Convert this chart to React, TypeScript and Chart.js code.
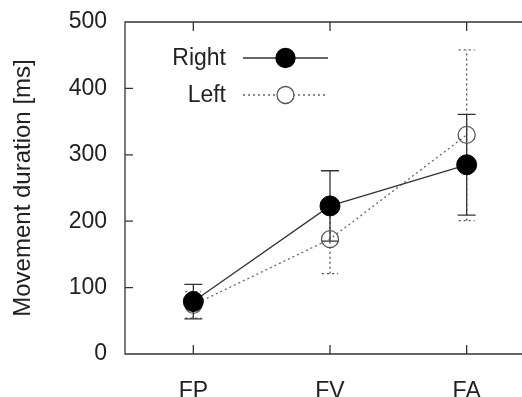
import React, { useEffect, useRef } from "react";
import { Chart, registerables } from "chart.js";

Chart.register(...registerables);

const categories = ["FP", "FV", "FA"];
const seriesNames = ["Right", "Left"];
const rightMean = [79, 223, 285];
const rightLow = [53, 170, 209];
const rightHigh = [105, 276, 361];
const leftMean = [74, 173, 330];
const leftLow = [54, 121, 201];
const leftHigh = [94, 225, 458];
const yTicks = [0, 100, 200, 300, 400, 500];
const yTitle = "Movement duration [ms]";

const FONT = "'Liberation Sans', Arial, Helvetica, sans-serif";
const W = 546;
const H = 420;

const zeroPad = (s: any) => {
  s.paddingTop = 0;
  s.paddingBottom = 0;
  s.paddingLeft = 0;
  s.paddingRight = 0;
};

const decorPlugin = {
  id: "decor",
  beforeDatasetsDraw(chart: any) {
    const { ctx, chartArea: a, scales } = chart;
    const x = scales.x;
    const y = scales.y;
    ctx.save();
    ctx.strokeStyle = "#333";
    ctx.lineWidth = 1.3;
    ctx.setLineDash([]);
    ctx.beginPath();
    ctx.moveTo(a.right, a.top);
    ctx.lineTo(a.left, a.top);
    ctx.lineTo(a.left, a.bottom);
    ctx.lineTo(a.right, a.bottom);
    yTicks.forEach((v) => {
      const py = y.getPixelForValue(v);
      ctx.moveTo(a.left, py);
      ctx.lineTo(a.left + 8, py);
    });
    categories.forEach((_, i) => {
      const px = x.getPixelForValue(i);
      ctx.moveTo(px, a.bottom);
      ctx.lineTo(px, a.bottom - 9);
      ctx.moveTo(px, a.top);
      ctx.lineTo(px, a.top + 9);
    });
    ctx.stroke();

    const drawErr = (lo: number[], hi: number[], color: string, dash: number[], half: number) => {
      ctx.strokeStyle = color;
      ctx.lineWidth = 1.3;
      ctx.setLineDash(dash);
      ctx.beginPath();
      lo.forEach((l, i) => {
        const px = x.getPixelForValue(i);
        const pl = y.getPixelForValue(l);
        const ph = y.getPixelForValue(hi[i]);
        ctx.moveTo(px, pl);
        ctx.lineTo(px, ph);
        ctx.moveTo(px - half, pl);
        ctx.lineTo(px + half, pl);
        ctx.moveTo(px - half, ph);
        ctx.lineTo(px + half, ph);
      });
      ctx.stroke();
    };
    drawErr(leftLow, leftHigh, "#555", [2, 3], 8);
    drawErr(rightLow, rightHigh, "#333", [], 9);
    ctx.restore();
  },
  afterDraw(chart: any) {
    const { ctx } = chart;
    ctx.save();
    ctx.font = `23px ${FONT}`;
    ctx.textAlign = "right";
    ctx.textBaseline = "middle";
    const rows = [
      { name: seriesNames[0], y: 58, color: "#333", dash: [] as number[], r: 9.5, fill: "#000", stroke: "#000" },
      { name: seriesNames[1], y: 95, color: "#666", dash: [2, 3], r: 8.5, fill: "#fff", stroke: "#555" },
    ];
    rows.forEach((row) => {
      ctx.fillStyle = "#222";
      ctx.fillText(row.name, 226, row.y + 1);
      ctx.strokeStyle = row.color;
      ctx.lineWidth = 1.3;
      ctx.setLineDash(row.dash);
      ctx.beginPath();
      ctx.moveTo(243, row.y);
      ctx.lineTo(328, row.y);
      ctx.stroke();
      ctx.setLineDash([]);
      ctx.beginPath();
      ctx.arc(285.5, row.y, row.r, 0, Math.PI * 2);
      ctx.fillStyle = row.fill;
      ctx.fill();
      ctx.strokeStyle = row.stroke;
      ctx.lineWidth = 1.3;
      ctx.stroke();
    });
    ctx.restore();
  },
};

export default function App() {
  const ref = useRef<HTMLCanvasElement | null>(null);
  useEffect(() => {
    if (!ref.current) return;
    const chart = new Chart(ref.current, {
      type: "line",
      data: {
        labels: categories,
        datasets: [
          {
            label: seriesNames[0],
            data: rightMean,
            borderColor: "#333",
            borderWidth: 1.3,
            pointRadius: 10,
            pointBackgroundColor: "#000",
            pointBorderColor: "#000",
            pointBorderWidth: 1,
            tension: 0,
            fill: false,
          },
          {
            label: seriesNames[1],
            data: leftMean,
            borderColor: "#666",
            borderWidth: 1.3,
            borderDash: [2, 3],
            pointRadius: 8.5,
            pointBackgroundColor: "rgba(0,0,0,0)",
            pointBorderColor: "#555",
            pointBorderWidth: 1.3,
            tension: 0,
            fill: false,
          },
        ],
      },
      options: {
        responsive: false,
        animation: false,
        devicePixelRatio: 1,
        layout: { padding: { left: 0, top: 22, right: 0, bottom: 0 } },
        plugins: { legend: { display: false }, tooltip: { enabled: false } },
        scales: {
          x: {
            type: "category",
            offset: true,
            grid: { display: false, drawTicks: false },
            border: { display: false },
            ticks: { font: { family: FONT, size: 23 }, color: "#222", padding: 23.5 },
            afterFit: (s: any) => {
              s.height = H - 354;
              zeroPad(s);
            },
          },
          y: {
            min: 0,
            max: 500,
            grid: { display: false, drawTicks: false },
            border: { display: false },
            ticks: { stepSize: 100, font: { family: FONT, size: 23 }, color: "#222", padding: 18 },
            title: {
              display: true,
              text: yTitle,
              font: { family: FONT, size: 24 },
              color: "#222",
              padding: { top: 8.6, bottom: 0 },
            },
            afterFit: (s: any) => {
              s.width = 125;
              zeroPad(s);
            },
          },
        },
      },
      plugins: [decorPlugin],
    } as any);
    return () => chart.destroy();
  }, []);
  return (
    <div style={{ position: "fixed", left: 0, top: 0, width: 522, height: 397, overflow: "hidden", background: "#fff" }}>
      <canvas ref={ref} width={W} height={H} style={{ width: W, height: H, display: "block" }} />
    </div>
  );
}
